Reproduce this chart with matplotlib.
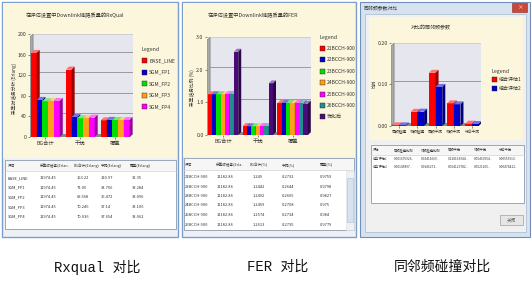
import numpy as np
import matplotlib.pyplot as plt
from matplotlib.patches import Rectangle, Polygon
from matplotlib.colors import to_rgb

plt.rcParams['font.family'] = ['Noto Sans CJK SC', 'DejaVu Sans']

W, H = 532, 303

# Rxqual 对比
rx_title = '在评估设置中Downlink链路质量的RxQual'
rx_cats = ['BG合计', '干扰', '覆盖']
rx_series = ['BASE_LINE', 'SGM_FP1', 'SGM_FP2', 'SGM_FP3', 'SGM_FP4']
rx_colors = ['#ff0000', '#0000c8', '#00e000', '#ff9f1a', '#ff00ff']
rx_traffic = [11974.45, 11974.45, 11974.45, 11974.45, 11974.45]
rx_bg = [163.22, 72.05, 69.568, 70.246, 70.036]
rx_intf = [130.97, 38.766, 36.472, 37.14, 37.654]
rx_cov = [32.35, 33.284, 33.096, 33.106, 33.062]
rx_yticks = [0, 40, 80, 120, 160, 200]

# FER 对比
fer_title = '在评估设置中Downlink链路质量的FER'
fer_cats = ['BG合计', '干扰', '覆盖']
fer_series = ['21BCCH-900', '22BCCH-900', '23BCCH-900', '24BCCH-900',
              '25BCCH-900', '26BCCH-900', '优化后']
fer_colors = ['#ff0000', '#0000c8', '#00e000', '#ff9f1a', '#ff00ff', '#1f8f8f', '#4b0a7a']
fer_traffic = [11182.86, 11182.86, 11182.86, 11182.86, 11182.86, 11182.86]
fer_bg = [1.249, 1.2442, 1.2492, 1.2459, 1.2574, 1.2613, 2.55]
fer_intf = [0.2732, 0.2644, 0.2665, 0.2708, 0.2734, 0.2735, 1.58]
fer_cov = [0.9759, 0.9798, 0.9827, 0.975, 0.984, 0.9779, 0.96]
fer_yticks = [0.0, 1.0, 2.0, 3.0]

# 同邻频碰撞对比
co_title = '对比的同邻频参数'
co_cats = ['同频碰撞', '邻频碰撞', '同频干扰', '邻频干扰', '综合干扰']
co_heads = ['同频碰撞比例', '邻频碰撞比例', '同频干扰', '邻频干扰', '综合干扰']
co_series = ['组合评估1', '组合评估2']
co_colors = ['#ff0000', '#0000c8']
co_eval1 = [0.001675926, 0.03411669, 0.128163944, 0.05463554, 0.00553913]
co_eval2 = [0.00145897, 0.0346273, 0.0941257826, 0.0521165, 0.00474412]
co_yticks = [0.0, 0.10, 0.20]

captions = ['Rxqual 对比', 'FER 对比', '同邻频碰撞对比']

CREAM = '#fcf7dc'
TXT = '#333333'

fig = plt.figure(figsize=(W / 100, H / 100), dpi=100)
bg = fig.add_axes([0, 0, 1, 1])
bg.set_xlim(0, W)
bg.set_ylim(H, 0)
bg.axis('off')


def rect(x0, y0, x1, y1, fc, ec='none', lw=0.6):
    bg.add_patch(Rectangle((x0, y0), x1 - x0, y1 - y0, fc=fc, ec=ec, lw=lw))


def bar3d(ax, xs, hs, w, color, dx, dy):
    rgb = np.array(to_rgb(color))
    side = rgb * 0.6
    top = rgb + (1 - rgb) * 0.45
    for r in ax.bar(xs, hs, w, color=color, lw=0, zorder=2):
        x, h = r.get_x(), r.get_height()
        ax.add_patch(Polygon([(x, h), (x + w, h), (x + w + dx, h + dy), (x + dx, h + dy)],
                             fc=top, lw=0, zorder=2))
        ax.add_patch(Polygon([(x + w, 0), (x + w + dx, dy), (x + w + dx, h + dy), (x + w, h)],
                             fc=side, lw=0, zorder=2))


def chart(box, cats, vals, colors, bw, xlim, yticks, fmt, xsize=3.8):
    x0p, y0p, x1p, y1p = box
    ax = fig.add_axes([x0p / W, 1 - y1p / H, (x1p - x0p) / W, (y1p - y0p) / H])
    ylim = (yticks[0], yticks[-1])
    ax.set_xlim(xlim)
    ax.set_ylim(ylim)
    ax.patch.set_alpha(0)
    for s in ax.spines.values():
        s.set_visible(False)
    dx = 3 * (xlim[1] - xlim[0]) / (x1p - x0p)
    dy = 3 * (ylim[1] - ylim[0]) / (y1p - y0p)
    xa, xb = xlim
    ya, yb = ylim
    ax.add_patch(Rectangle((xa + dx, ya + dy), xb - xa - dx, yb - ya - dy,
                           fc='#e6e6ee', ec='#b8b8c0', lw=0.4, zorder=0))
    ax.add_patch(Polygon([(xa, ya), (xa + dx, ya + dy), (xa + dx, yb), (xa, yb - dy)],
                         fc='#a9a9a9', ec='#7a7a7a', lw=0.4, zorder=1))
    ax.add_patch(Polygon([(xa, ya), (xb - dx, ya), (xb, ya + dy), (xa + dx, ya + dy)],
                         fc='#8a8a8a', lw=0, zorder=1))
    for t in yticks[1:-1]:
        ax.plot([xa + dx, xb], [t + dy, t + dy], color='#9a9a9a', lw=0.7, zorder=1)
    n = len(vals)
    idx = np.arange(len(cats))
    for i, (v, c) in enumerate(zip(vals, colors)):
        bar3d(ax, idx - n * bw / 2 + bw / 2 + i * bw, v, bw, c, dx, dy)
    ax.set_yticks(yticks, [fmt.format(t) for t in yticks])
    ax.set_xticks(idx, cats)
    ax.tick_params(labelsize=3.8, length=1.5, width=0.4, pad=1, colors=TXT)
    ax.tick_params(axis='x', labelsize=xsize, pad=1.5)
    return ax


def legend(x, y, names, colors, step):
    bg.text(x, y, 'Legend', fontsize=3.8, color=TXT, va='center')
    for i, (nm, c) in enumerate(zip(names, colors)):
        yy = y + step * (i + 1)
        rect(x, yy - 2.5, x + 5, yy + 2.5, c, ec='#202020', lw=0.3)
        bg.text(x + 7, yy, nm, fontsize=3.6, color=TXT, va='center')


def table(box, head_y, row_y0, step, head_x, heads, val_x, rows, size=2.9, hsize=2.6):
    x0, y0, x1, y1 = box
    rect(x0, y0, x1, y1, 'white', ec='#8a9ab0', lw=0.6)
    rect(x0 + 0.5, y0 + 0.5, x1 - 0.5, head_y + 4.5, '#f6f6f6')
    bg.plot([x0, x1], [head_y + 4.5, head_y + 4.5], color='#d0d0d0', lw=0.5)
    for hx, h in zip(head_x, heads):
        bg.text(hx, head_y, h, fontsize=hsize, color=TXT, va='center')
    for r, row in enumerate(rows):
        for vx, s in zip(val_x, row):
            bg.text(vx, row_y0 + r * step, s, fontsize=size, color=TXT, va='center')


# ---- panel 1: Rxqual
rect(2, 2, 178, 237, '#eef0f4', ec='#7b9fcc', lw=1.0)
rect(3, 3, 177, 158, CREAM)
bg.text(75, 15, rx_title, fontsize=3.8, color=TXT, ha='center', va='center')
bg.text(14, 88, '采集时话务分析 (Erlang)', fontsize=3.4, color=TXT, rotation=90,
        ha='center', va='center')
rx_vals = [[rx_bg[i], rx_intf[i], rx_cov[i]] for i in range(len(rx_series))]
chart((30, 34, 133, 137), rx_cats, rx_vals, rx_colors, 0.165, (-0.44, 2.51),
      rx_yticks, '{:.0f}')
legend(142, 49, rx_series, rx_colors, 11.5)
rx_rows = [[rx_series[i], f'{rx_traffic[i]:.2f}', f'{rx_bg[i]:g}', f'{rx_intf[i]:g}',
            f'{rx_cov[i]:g}'] for i in range(len(rx_series))]
table((5, 160, 176, 229), 166, 178, 9.7, [8, 40, 74, 101, 130],
      ['评估', '采集时话务(Erlan..', 'BG合计(Erlang)', '干扰(Erlang)', '覆盖(Erlang)'],
      [8, 40, 77, 101, 132], rx_rows)

# ---- panel 2: FER
rect(182, 2, 356, 237, '#eef0f4', ec='#7b9fcc', lw=1.0)
rect(183, 3, 355, 157, CREAM)
bg.text(253, 15, fer_title, fontsize=3.8, color=TXT, ha='center', va='center')
bg.text(192, 88, '采集话务比例 (%)', fontsize=3.4, color=TXT, rotation=90,
        ha='center', va='center')
fer_vals = [[fer_bg[i], fer_intf[i], fer_cov[i]] for i in range(len(fer_series))]
chart((207, 37, 311, 135), fer_cats, fer_vals, fer_colors, 0.125, (-0.46, 2.53),
      fer_yticks, '{:.1f}')
legend(320, 37, fer_series, fer_colors, 11.4)
fer_rows = [[fer_series[i], f'{fer_traffic[i]:.2f}', f'{fer_bg[i]:g}', f'{fer_intf[i]:g}',
             f'{fer_cov[i]:g}'] for i in range(len(fer_traffic))]
table((184, 158, 354, 230), 165, 177, 9.5, [185, 216, 250, 282, 320],
      ['评估', '采集时话务(Erla..', 'BG合计(%)', '干扰(%)', '覆盖(%)'],
      [185, 217, 253, 282, 320], fer_rows)
rect(346, 171, 353.5, 229.5, '#eef2f6', ec='#d8dde4', lw=0.4)
rect(347, 178, 352.5, 222, '#d4e3ee', ec='#a9bfd0', lw=0.4)

# ---- panel 3: 同邻频碰撞
rect(360, 2, 530, 237, '#d6e2f0', ec='#6f8fb8', lw=0.8)
rect(365, 14, 526, 232, '#f0f0f0', ec='#a8b8cc', lw=0.5)
bg.text(364, 8, '同邻频参数对比', fontsize=3.5, color=TXT, va='center')
rect(512, 3, 527, 12, '#c9483a', ec='#8a2a22', lw=0.4)
bg.text(519.5, 7.5, '×', fontsize=4, color='white', ha='center', va='center')
rect(369, 17, 523, 140, CREAM)
bg.text(431, 28, co_title, fontsize=3.6, color=TXT, ha='center', va='center')
bg.text(375, 84, '比例', fontsize=3.0, color=TXT, rotation=90, ha='center', va='center')
chart((391, 43, 481, 126), co_cats, [co_eval1, co_eval2], co_colors, 0.37,
      (-0.45, 4.5), co_yticks, '{:.2f}', xsize=2.7)
legend(492, 71, co_series, co_colors, 8.5)
co_rows = [[co_series[0]] + [f'{v}'[:11] + '..' for v in co_eval1],
           [co_series[1]] + [f'{v}'[:11] + '..' for v in co_eval2]]
co_x = [373, 394, 421, 448, 474, 499]
table((371, 145, 524, 203), 150, 158.5, 8, co_x, ['评估'] + co_heads, co_x, co_rows,
      size=2.3, hsize=2.3)
rect(500, 215, 523, 225, '#e6e6e6', ec='#a0a0a0', lw=0.5)
bg.text(511.5, 220, '关闭', fontsize=3.3, color='#666666', ha='center', va='center')

# ---- captions
for cx, cap in zip([97, 278, 442], captions):
    bg.text(cx, 267, cap, fontsize=10, color='#111111', ha='center', va='center',
            family=['Liberation Mono', 'Noto Sans CJK SC'])

fig.savefig('out.png', dpi=100)
